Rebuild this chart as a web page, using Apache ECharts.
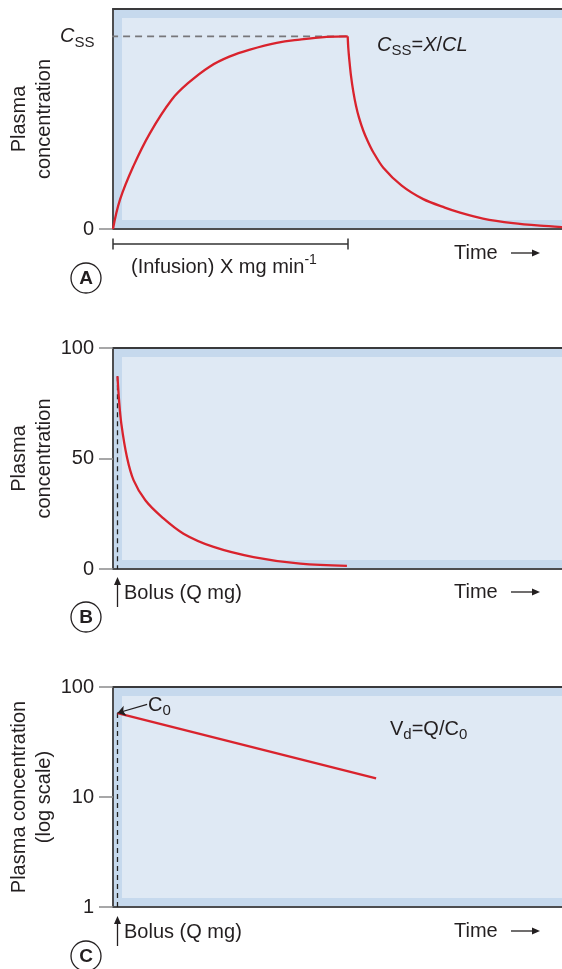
<!DOCTYPE html>
<html><head><meta charset="utf-8">
<script src="https://cdn.jsdelivr.net/npm/echarts@6/dist/echarts.min.js"></script>
<style>html,body{margin:0;padding:0;background:#fff}#c{width:562px;height:969px}</style>
</head><body><div id="c"></div>
<script>
// ---------- data ----------
// Panel A: constant-rate infusion, Css = 100 (relative)
const riseX = [0, 1.56, 4.52, 8.24, 13.07, 16.77, 21.6, 26.05, 30.5, 36.46, 41.6, 47.6, 52.27];
const riseY = [0, 15.2, 32.5, 49.8, 67.1, 75.8, 84.4, 89.6, 93.1, 96.6, 98.3, 99.7, 100];
const fallX = [52.27, 52.4, 52.67, 53.0, 53.52, 54.12, 54.79, 55.75, 56.79, 57.91, 60.2, 64.3, 69.1, 73.9, 77.3, 82.4, 89.1, 95.1, 100];
const fallY = [100, 94.1, 86.9, 79.6, 71.3, 64.0, 57.8, 51.0, 45.3, 40.1, 31.8, 22.5, 15.5, 11.1, 8.5, 5.4, 3.0, 1.7, 1.0];
const cssX = [-3.1, 52.27];
const cssY = [100, 100];
const ticksA = [0];
// Panel B: bolus, linear scale
const bolusX = [1.0, 1.35, 1.85, 3.1, 4.6, 7.2, 10.9, 15.7, 22.4, 31.3, 41.7, 52.1];
const bolusY = [87.2, 76.3, 65.8, 50.7, 40.1, 31.1, 23.5, 16.0, 10.0, 5.4, 2.4, 1.4];
const ticksB = [0, 50, 100];
// Panel C: bolus, log scale
const logX = [1.0, 58.6];
const logY = [58.0, 14.8];
const ticksC = [1, 10, 100];
const c0Arrow = [[7.6, 69.6], [1.0, 58.0]];

// ---------- layout ----------
const FONT = '"Liberation Sans", Arial, Helvetica, sans-serif';
const TXT = '#231f20';
const RED = '#d9232d';
const L = 113, W = 562 - 113;
const P = [{top: 9, h: 220}, {top: 348, h: 221}, {top: 687, h: 220}];
const STEP = 339;

const cv = document.createElement('canvas').getContext('2d');
function fnt(p){ return (p.italic ? 'italic ' : '') + (p.bold ? 'bold ' : '') + p.size + 'px ' + FONT; }
function run(x, y, parts, align){
  let widths = parts.map(p => { cv.font = fnt(p); return cv.measureText(p.t).width; });
  let total = widths.reduce((a,b)=>a+b,0);
  let cx = align === 'right' ? x - total : (align === 'center' ? x - total/2 : x);
  const out = [];
  parts.forEach((p,i) => {
    out.push({type:'text', x: cx, y: y + (p.dy||0), z: 10,
      style:{text:p.t, font: fnt(p), fill: TXT, textAlign:'left', textVerticalAlign:'middle'}});
    cx += widths[i];
  });
  return out;
}

const graphics = [];
// inner light panels
P.forEach(p => graphics.push({type:'rect', z: 1, shape:{x: L+9, y: p.top+9, width: W, height: p.h-18}, style:{fill:'#dfe9f4'}}));
// time labels + arrows, circle letters
['A','B','C'].forEach((letter, k) => {
  const ty = 253 + k*STEP;
  graphics.push(...run(454, ty, [{t:'Time', size:20}]));
  graphics.push({type:'line', z:10, shape:{x1:511, y1:ty, x2:535, y2:ty}, style:{stroke:TXT, lineWidth:1.3}});
  graphics.push({type:'polygon', z:10, shape:{points:[[540,ty],[532,ty-3.5],[532,ty+3.5]]}, style:{fill:TXT}});
  const cy = 278 + k*STEP;
  graphics.push({type:'circle', z:10, shape:{cx:86, cy:cy, r:15}, style:{fill:'#fff', stroke:TXT, lineWidth:1.3}});
  graphics.push(...run(86, cy+1, [{t:letter, size:19, bold:true}], 'center'));
});
// bolus arrows and labels (B, C)
[1,2].forEach(k => {
  const y0 = 577 + (k-1)*STEP;
  graphics.push({type:'line', z:10, shape:{x1:117.5, y1:y0+4, x2:117.5, y2:y0+30}, style:{stroke:TXT, lineWidth:1.3}});
  graphics.push({type:'polygon', z:10, shape:{points:[[117.5,y0],[114,y0+8],[121,y0+8]]}, style:{fill:TXT}});
  graphics.push(...run(124, 593 + (k-1)*STEP, [{t:'Bolus (Q mg)', size:20}]));
});
// infusion bar
graphics.push({type:'line', z:10, shape:{x1:113, y1:244, x2:348, y2:244}, style:{stroke:'#333', lineWidth:1.5}});
graphics.push({type:'line', z:10, shape:{x1:113, y1:238.5, x2:113, y2:249.5}, style:{stroke:'#333', lineWidth:1.5}});
graphics.push({type:'line', z:10, shape:{x1:348, y1:238.5, x2:348, y2:249.5}, style:{stroke:'#333', lineWidth:1.5}});
graphics.push(...run(131, 267, [{t:'(Infusion) X mg min', size:20}, {t:'-1', size:14, dy:-7}]));
// Css axis label
graphics.push(...run(94.5, 36.5, [{t:'C', size:20, italic:true}, {t:'SS', size:15, dy:6}], 'right'));
// Css = X/CL
graphics.push(...run(377, 45, [{t:'C', size:20, italic:true}, {t:'SS', size:15, dy:6}, {t:'=', size:20}, {t:'X', size:20, italic:true}, {t:'/', size:20}, {t:'CL', size:20, italic:true}]));
// C0 label
graphics.push(...run(148, 705, [{t:'C', size:20}, {t:'0', size:15, dy:6}]));
// Vd = Q/C0
graphics.push(...run(390, 729, [{t:'V', size:20}, {t:'d', size:15, dy:6}, {t:'=Q/C', size:20}, {t:'0', size:15, dy:6}]));

function xAxes(gi){
  return [
    {gridIndex: gi, type:'value', min:0, max:100, position:'bottom',
     axisLine:{show:true, onZero:false, lineStyle:{color:'#4d4d4f', width:2}}, axisTick:{show:false}, axisLabel:{show:false}, splitLine:{show:false}},
    {gridIndex: gi, type:'value', min:0, max:100, position:'top',
     axisLine:{show:true, onZero:false, lineStyle:{color:'#3a3a3c', width:2}}, axisTick:{show:false}, axisLabel:{show:false}, splitLine:{show:false}}
  ];
}
function yAxis(gi, extra, ticks, name){
  return Object.assign({gridIndex: gi, position:'left',
    name: name, nameLocation:'middle', nameRotate: 90, nameGap: 56, nameMoveOverlap: false,
    nameTextStyle:{fontFamily: FONT, fontSize: 20, color: TXT, lineHeight: 25},
    axisLine:{show:true, onZero:false, lineStyle:{color:'#4d4d4f', width:2}},
    axisTick:{show:true, length:14, customValues: ticks, lineStyle:{color:'#8a8a8c', width:1.5}},
    axisLabel:{show:true, margin:19, customValues: ticks, fontFamily: FONT, fontSize:20, color: TXT},
    splitLine:{show:false}}, extra);
}
const pairs = (xs, ys) => xs.map((x,i) => [x, ys[i]]);
const redStyle = {color: RED, width: 2.3};

const option = {
  animation: false,
  backgroundColor: '#fff',
  grid: P.map(p => ({left: L, right: 0, top: p.top, height: p.h, show: true, backgroundColor: '#c6d9ed', borderWidth: 0,
                     containLabel: false, outerBoundsMode: 'none'})),
  xAxis: [...xAxes(0), ...xAxes(1), ...xAxes(2)],
  yAxis: [
    yAxis(0, {type:'value', min:0, max:114.2}, ticksA, 'Plasma\nconcentration'),
    yAxis(1, {type:'value', min:0, max:100}, ticksB, 'Plasma\nconcentration'),
    yAxis(2, {type:'log', logBase:10, min:1, max:100}, ticksC, 'Plasma concentration\n(log scale)')
  ],
  series: [
    {type:'line', xAxisIndex:0, yAxisIndex:0, data: pairs(cssX, cssY), clip:false, symbol:'none', z:3,
     lineStyle:{color:'#77777a', width:1.6, type:[7,5]}},
    {type:'line', xAxisIndex:0, yAxisIndex:0, data: pairs(riseX, riseY), symbol:'none', smooth:0.4, z:4, lineStyle: redStyle},
    {type:'line', xAxisIndex:0, yAxisIndex:0, data: pairs(fallX, fallY), symbol:'none', smooth:0.3, z:4, lineStyle: redStyle},
    {type:'line', xAxisIndex:2, yAxisIndex:1, data: [[bolusX[0], bolusY[0]], [bolusX[0], 0]], symbol:'none', z:3,
     lineStyle:{color:'#222', width:1.3, type:[5,4]}},
    {type:'line', xAxisIndex:2, yAxisIndex:1, data: pairs(bolusX, bolusY), symbol:'none', smooth:0.35, z:4, lineStyle: redStyle},
    {type:'line', xAxisIndex:4, yAxisIndex:2, data: [[logX[0], logY[0]], [logX[0], 1]], symbol:'none', z:3,
     lineStyle:{color:'#222', width:1.3, type:[5,4]}},
    {type:'line', xAxisIndex:4, yAxisIndex:2, data: pairs(logX, logY), symbol:'none', z:4, lineStyle: redStyle,
     markLine:{silent:true, symbol:['none','arrow'], symbolSize:8, label:{show:false},
       lineStyle:{color:TXT, width:1.2, type:'solid'},
       data:[[{coord:c0Arrow[0]}, {coord:c0Arrow[1]}]]}}
  ],
  graphic: graphics
};
const chart = echarts.init(document.getElementById('c'), null, {renderer:'canvas'});
chart.setOption(option);
</script></body></html>
